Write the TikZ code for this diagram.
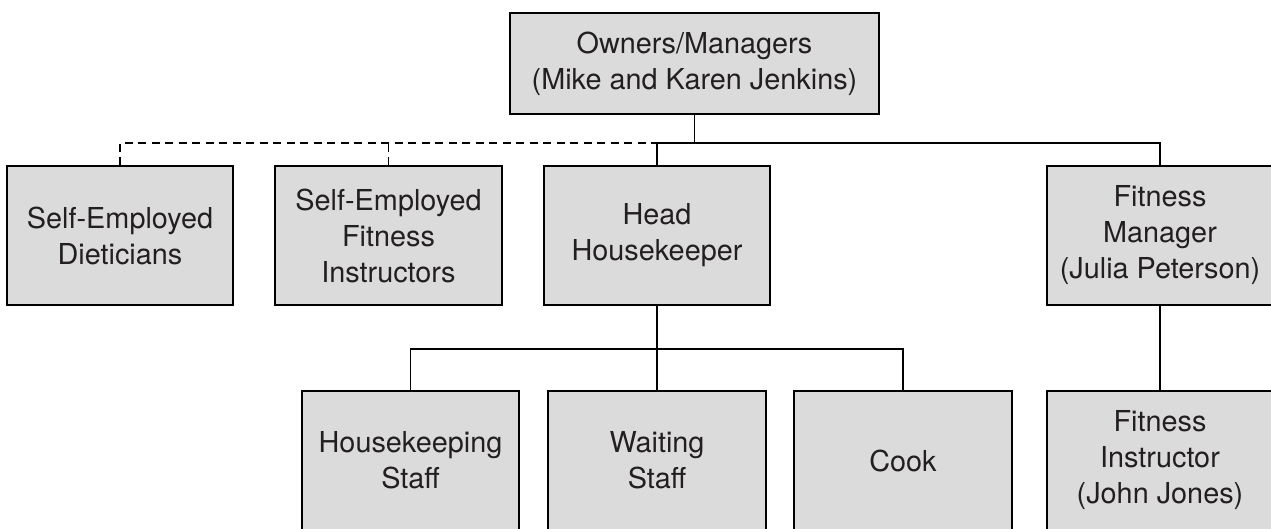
\documentclass[tikz,border=0pt]{standalone}
\usepackage{fontspec}
\setmainfont{TeX Gyre Heros}
\definecolor{boxgray}{HTML}{DBDBDB}
\definecolor{inkgray}{HTML}{231F20}
\tikzset{
  unit/.style={draw=black, fill=boxgray, line width=1.1pt, align=center,
    text=inkgray, inner sep=2pt, minimum height=2.78cm,
    font=\fontsize{16.4}{20.5}\selectfont},
  link/.style={line width=1.1pt},
  outside/.style={link, dash pattern=on 0.16cm off 0.11cm}
}
\begin{document}
\begin{tikzpicture}
    \useasboundingbox (0,0) rectangle (25.42,10.56);

    % Owners at the top
    \node[unit, minimum width=7.38cm, minimum height=2.02cm] (owners) at (13.89,9.29)
        {Owners/Managers\\(Mike and Karen Jenkins)};

    % Second row
    \node[unit, minimum width=4.52cm] (dieticians) at (2.40,5.85) {Self-Employed\\Dieticians};
    \node[unit, minimum width=4.54cm] (instructors) at (7.77,5.85) {Self-Employed\\Fitness\\Instructors};
    \node[unit, minimum width=4.52cm] (head) at (13.14,5.85) {Head\\Housekeeper};
    \node[unit, minimum width=4.52cm] (fitmanager) at (23.20,5.85) {Fitness\\Manager\\(Julia Peterson)};

    % Third row
    \node[unit, minimum width=4.34cm] (housekeeping) at (8.21,1.35) {Housekeeping\\Staff};
    \node[unit, minimum width=4.36cm] (waiting) at (13.14,1.35) {Waiting\\Staff};
    \node[unit, minimum width=4.36cm] (cook) at (18.06,1.35) {Cook};
    \node[unit, minimum width=4.52cm] (fitinstructor) at (23.20,1.35) {Fitness\\Instructor\\(John Jones)};

    % Bus lines
    \coordinate (topbus) at (13.89,7.70);
    \coordinate (lowbus) at (13.14,3.58);

    % Connectors from the owners
    \draw[link] (owners.south) -- (topbus);
    \draw[link] (head.north) -- (head.north |- topbus) -| (fitmanager.north);
    \draw[outside] (dieticians.north) |- (head.north |- topbus);
    \draw[outside] (instructors.north) -- (instructors.north |- topbus);

    % Connectors under the head housekeeper
    \draw[link] (head.south) -- (waiting.north);
    \draw[link] (housekeeping.north) |- (lowbus) -| (cook.north);

    % Fitness line
    \draw[link] (fitmanager.south) -- (fitinstructor.north);
\end{tikzpicture}
\end{document}
